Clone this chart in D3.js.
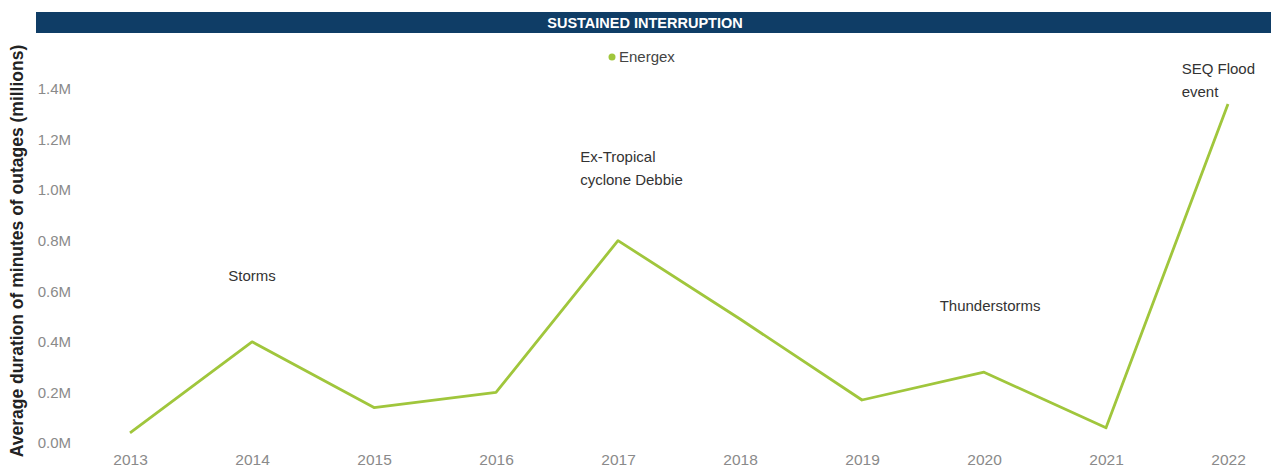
<!DOCTYPE html>
<html>
<head>
<meta charset="utf-8">
<script src="https://cdn.jsdelivr.net/npm/d3@7"></script>
<style>
  body { margin: 0; background: #fff; }
  svg { font-family: "Liberation Sans", Arial, sans-serif; }
</style>
</head>
<body>
<svg width="1271" height="475"></svg>
<script>
const years = [2013, 2014, 2015, 2016, 2017, 2018, 2019, 2020, 2021, 2022];
const energex = [0.04, 0.40, 0.14, 0.20, 0.80, 0.49, 0.17, 0.28, 0.06, 1.34];
const yTicks = [0, 0.2, 0.4, 0.6, 0.8, 1.0, 1.2, 1.4];

// annotations placed in data space (year, value in millions)
const notes = [
    { year: 2014, value: 0.66, anchor: "middle", lines: ["Storms"] },
    { year: 2016.69, value: 1.13, anchor: "start", lines: ["Ex-Tropical", "cyclone Debbie"] },
    { year: 2020.05, value: 0.54, anchor: "middle", lines: ["Thunderstorms"] },
    { year: 2021.62, value: 1.48, anchor: "start", lines: ["SEQ Flood", "event"] }
];

const svg = d3.select("svg"),
    width = +svg.attr("width"),
    height = +svg.attr("height");

const x = d3.scaleLinear().domain([2013, 2022]).range([130, 1228]);
const y = d3.scaleLinear().domain([0, 1.4]).range([443, 88.8]);

////////////////////////
// title bar
svg.append("rect")
    .attr("x", 36).attr("y", 12)
    .attr("width", width - 36).attr("height", 21)
    .attr("fill", "#0f3d66");

svg.append("text")
    .attr("x", 645).attr("y", 28)
    .attr("text-anchor", "middle")
    .attr("fill", "#fff")
    .attr("font-weight", "bold")
    .attr("font-size", 14.5)
    .text("SUSTAINED INTERRUPTION");

// legend
svg.append("circle")
    .attr("cx", 612).attr("cy", 57).attr("r", 3.5)
    .attr("fill", "#a0c63c");
svg.append("text")
    .attr("x", 619).attr("y", 62)
    .attr("fill", "#444")
    .attr("font-size", 15)
    .text("Energex");

// axes
const yAxis = svg.append("g")
    .attr("transform", "translate(71,0)")
    .call(d3.axisLeft(y).tickValues(yTicks).tickSize(0).tickPadding(0)
        .tickFormat(d => d3.format(".1f")(d) + "M"));
yAxis.select(".domain").remove();
yAxis.selectAll("text")
    .attr("fill", "#8a8a8a")
    .attr("font-size", 15)
    .attr("font-family", "Liberation Sans, Arial, sans-serif");

const xAxis = svg.append("g")
    .attr("transform", "translate(0,454)")
    .call(d3.axisBottom(x).tickValues(years).tickSize(0).tickPadding(0)
        .tickFormat(d3.format("d")));
xAxis.select(".domain").remove();
xAxis.selectAll("text")
    .attr("fill", "#8a8a8a")
    .attr("font-size", 15.5)
    .attr("font-family", "Liberation Sans, Arial, sans-serif");

svg.append("text")
    .attr("transform", "translate(23,251) rotate(-90)")
    .attr("text-anchor", "middle")
    .attr("fill", "#222")
    .attr("font-weight", "bold")
    .attr("font-size", 17.5)
    .text("Average duration of minutes of outages (millions)");

// line
const line = d3.line()
    .x((d, i) => x(years[i]))
    .y(d => y(d));

svg.append("path")
    .datum(energex)
    .attr("fill", "none")
    .attr("stroke", "#a0c63c")
    .attr("stroke-width", 2.8)
    .attr("stroke-linejoin", "round")
    .attr("d", line);

// annotations
const noteG = svg.append("g").selectAll("text")
    .data(notes)
    .enter()
    .append("text")
    .attr("text-anchor", d => d.anchor)
    .attr("fill", "#333")
    .attr("font-size", 15);

noteG.selectAll("tspan")
    .data(d => d.lines.map((l, i) => ({ l, i, d })))
    .enter()
    .append("tspan")
    .attr("x", t => x(t.d.year))
    .attr("y", t => y(t.d.value) + 5 + t.i * 23)
    .text(t => t.l);
</script>
</body>
</html>
